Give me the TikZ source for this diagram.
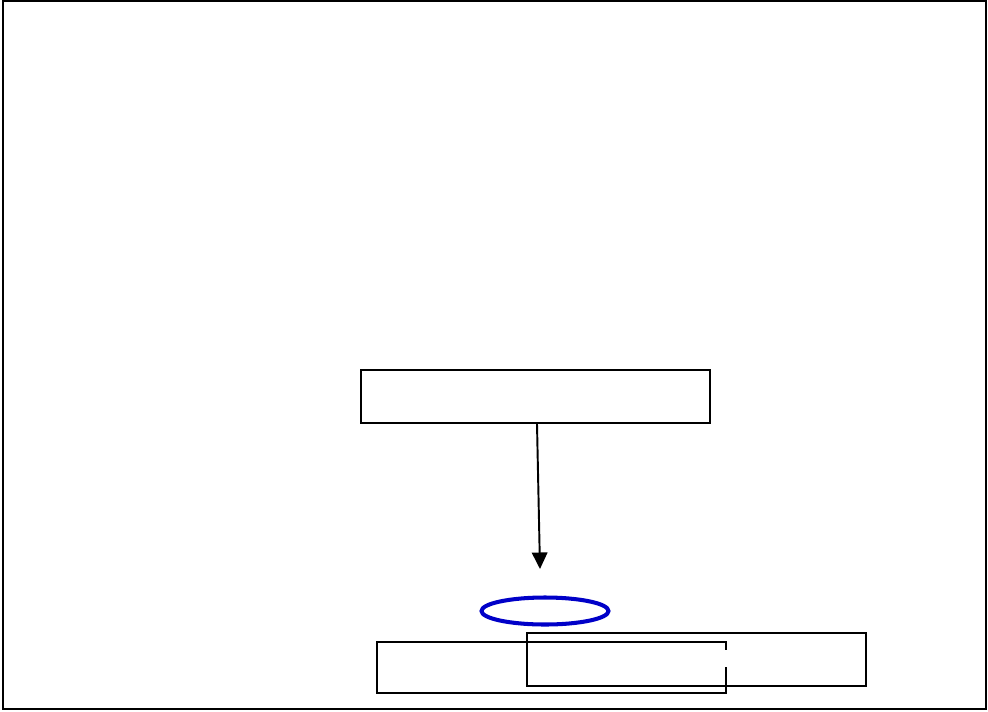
\documentclass[tikz,border=0pt]{standalone}
\usepackage{tikz}
\usetikzlibrary{arrows.meta,shapes.geometric}

\begin{document}
\begin{tikzpicture}[x=0.02cm,y=-0.02cm,
        blankbox/.style={draw=black,line width=1.1pt,inner sep=0pt},
        ring/.style={ellipse,draw={rgb,255:red,0;green,0;blue,200},line width=2.3pt,inner sep=0pt}]
            \useasboundingbox (0,0) rectangle (988,711);
            \draw[line width=1.5pt] (3,1) rectangle (986,709);
            \node[blankbox,minimum width=6.98cm,minimum height=1.06cm] (top) at (535.5,396.5) {};
            \node[ring,minimum width=2.54cm,minimum height=0.54cm] (oval) at (545,611) {};
            \node[blankbox,minimum width=6.98cm,minimum height=1.02cm] (lowleft) at (551.5,667.5) {};
            \node[blankbox,minimum width=6.78cm,minimum height=1.06cm] (lowright) at (696.5,659.5) {};
            \coordinate (tip) at (540,569);
            \draw[line width=1.1pt,-{Triangle[length=3.3mm,width=3.1mm]}] (top.south -| 537,0) -- (tip);
            \draw[white,line width=2pt] (lowleft.east |- 0,650) -- (lowleft.east |- 0,667);
        \end{tikzpicture}
\end{document}
